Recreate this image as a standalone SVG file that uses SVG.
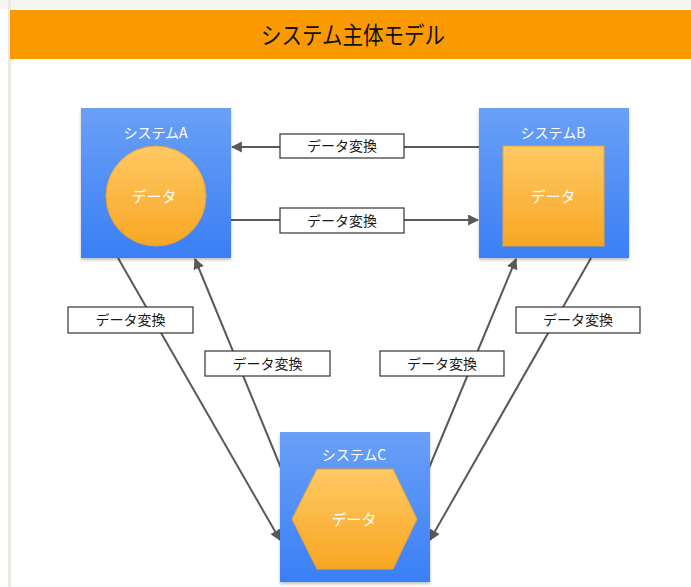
<svg xmlns="http://www.w3.org/2000/svg" width="691" height="587" viewBox="0 0 691 587">
  <style>
    .jp { font-family: "Noto Sans CJK JP", "Noto Sans", sans-serif; }
    .title { font-size: 24px; fill: #111111; }
    .sys { font-size: 14px; fill: #ffffff; }
    .data { font-size: 15px; fill: #ffffff; }
    .lbl { font-size: 14px; fill: #1a1a1a; }
    .box { fill: url(#blue); filter: url(#shadow); }
    .store { fill: url(#orange); stroke: #eaa236; stroke-width: 1; }
    .tag { fill: #ffffff; stroke: #333333; stroke-width: 1.2; }
    .wire { stroke: #595959; stroke-width: 2; fill: none; marker-end: url(#arrow); }
  </style>
  <defs>
    <linearGradient id="blue" x1="0" y1="0" x2="0" y2="1">
      <stop offset="0" stop-color="#6aa0f6"/>
      <stop offset="1" stop-color="#3a7ff6"/>
    </linearGradient>
    <linearGradient id="orange" x1="0" y1="0" x2="0" y2="1">
      <stop offset="0" stop-color="#ffc964"/>
      <stop offset="1" stop-color="#f8a623"/>
    </linearGradient>
    <filter id="shadow" x="-10%" y="-10%" width="120%" height="125%">
      <feDropShadow dx="0" dy="2" stdDeviation="1.5" flood-color="#000000" flood-opacity="0.25"/>
    </filter>
    <marker id="arrow" viewBox="0 0 10 10" refX="9" refY="5" markerWidth="5.5" markerHeight="5.5" orient="auto" markerUnits="strokeWidth">
      <path d="M0,0 L10,5 L0,10 Z" fill="#595959"/>
    </marker>
  </defs>

  <!-- page background and frame -->
  <rect x="0" y="0" width="691" height="587" fill="#ffffff"/>
  <rect x="0" y="0" width="691" height="9" fill="#f6f5f2"/>
  <rect x="8" y="0" width="3" height="587" fill="#ece9e2"/>

  <!-- header band -->
  <g id="header">
    <rect x="10" y="10" width="681" height="49" fill="#fa9a00"/>
    <text class="jp title" x="353" y="44" text-anchor="middle" textLength="184" lengthAdjust="spacingAndGlyphs">システム主体モデル</text>
  </g>

  <!-- connectors -->
  <g id="connectors">
    <line class="wire" x1="479" y1="147" x2="232" y2="147"/>
    <line class="wire" x1="231" y1="220" x2="478" y2="220"/>
    <line class="wire" x1="118" y1="258" x2="280" y2="540"/>
    <line class="wire" x1="281" y1="468" x2="195" y2="259"/>
    <line class="wire" x1="429" y1="468" x2="516" y2="259"/>
    <line class="wire" x1="591" y1="258" x2="430" y2="540"/>
  </g>

  <!-- connector labels -->
  <g id="labels">
    <g id="label-b-to-a">
      <rect class="tag" x="280" y="134" width="124" height="24"/>
      <text class="jp lbl" x="342" y="151" text-anchor="middle">データ変換</text>
    </g>
    <g id="label-a-to-b">
      <rect class="tag" x="280" y="208" width="124" height="25"/>
      <text class="jp lbl" x="342" y="225.5" text-anchor="middle">データ変換</text>
    </g>
    <g id="label-a-to-c">
      <rect class="tag" x="68" y="307" width="125" height="26"/>
      <text class="jp lbl" x="130.5" y="325" text-anchor="middle">データ変換</text>
    </g>
    <g id="label-c-to-a">
      <rect class="tag" x="205" y="351" width="125" height="25"/>
      <text class="jp lbl" x="267.5" y="368.5" text-anchor="middle">データ変換</text>
    </g>
    <g id="label-c-to-b">
      <rect class="tag" x="380" y="351" width="124" height="25"/>
      <text class="jp lbl" x="442" y="368.5" text-anchor="middle">データ変換</text>
    </g>
    <g id="label-b-to-c">
      <rect class="tag" x="516" y="307" width="124" height="26"/>
      <text class="jp lbl" x="578" y="325" text-anchor="middle">データ変換</text>
    </g>
  </g>

  <!-- system A: circular data store -->
  <g id="system-a">
    <rect class="box" x="81" y="108" width="150" height="150"/>
    <text class="jp sys" x="155.5" y="138" text-anchor="middle">システムA</text>
    <circle class="store" cx="156" cy="196" r="50"/>
    <text class="jp data" x="154" y="202" text-anchor="middle">データ</text>
  </g>

  <!-- system B: square data store -->
  <g id="system-b">
    <rect class="box" x="479" y="108" width="150" height="150"/>
    <text class="jp sys" x="553" y="138" text-anchor="middle">システムB</text>
    <rect class="store" x="503" y="146" width="101" height="100"/>
    <text class="jp data" x="553" y="202" text-anchor="middle">データ</text>
  </g>

  <!-- system C: hexagonal data store -->
  <g id="system-c">
    <rect class="box" x="280" y="432" width="150" height="150"/>
    <text class="jp sys" x="354" y="460" text-anchor="middle">システムC</text>
    <polygon class="store" points="292,519 317,469 393,469 417,519 393,569 317,569"/>
    <text class="jp data" x="354" y="525" text-anchor="middle">データ</text>
  </g>
</svg>
